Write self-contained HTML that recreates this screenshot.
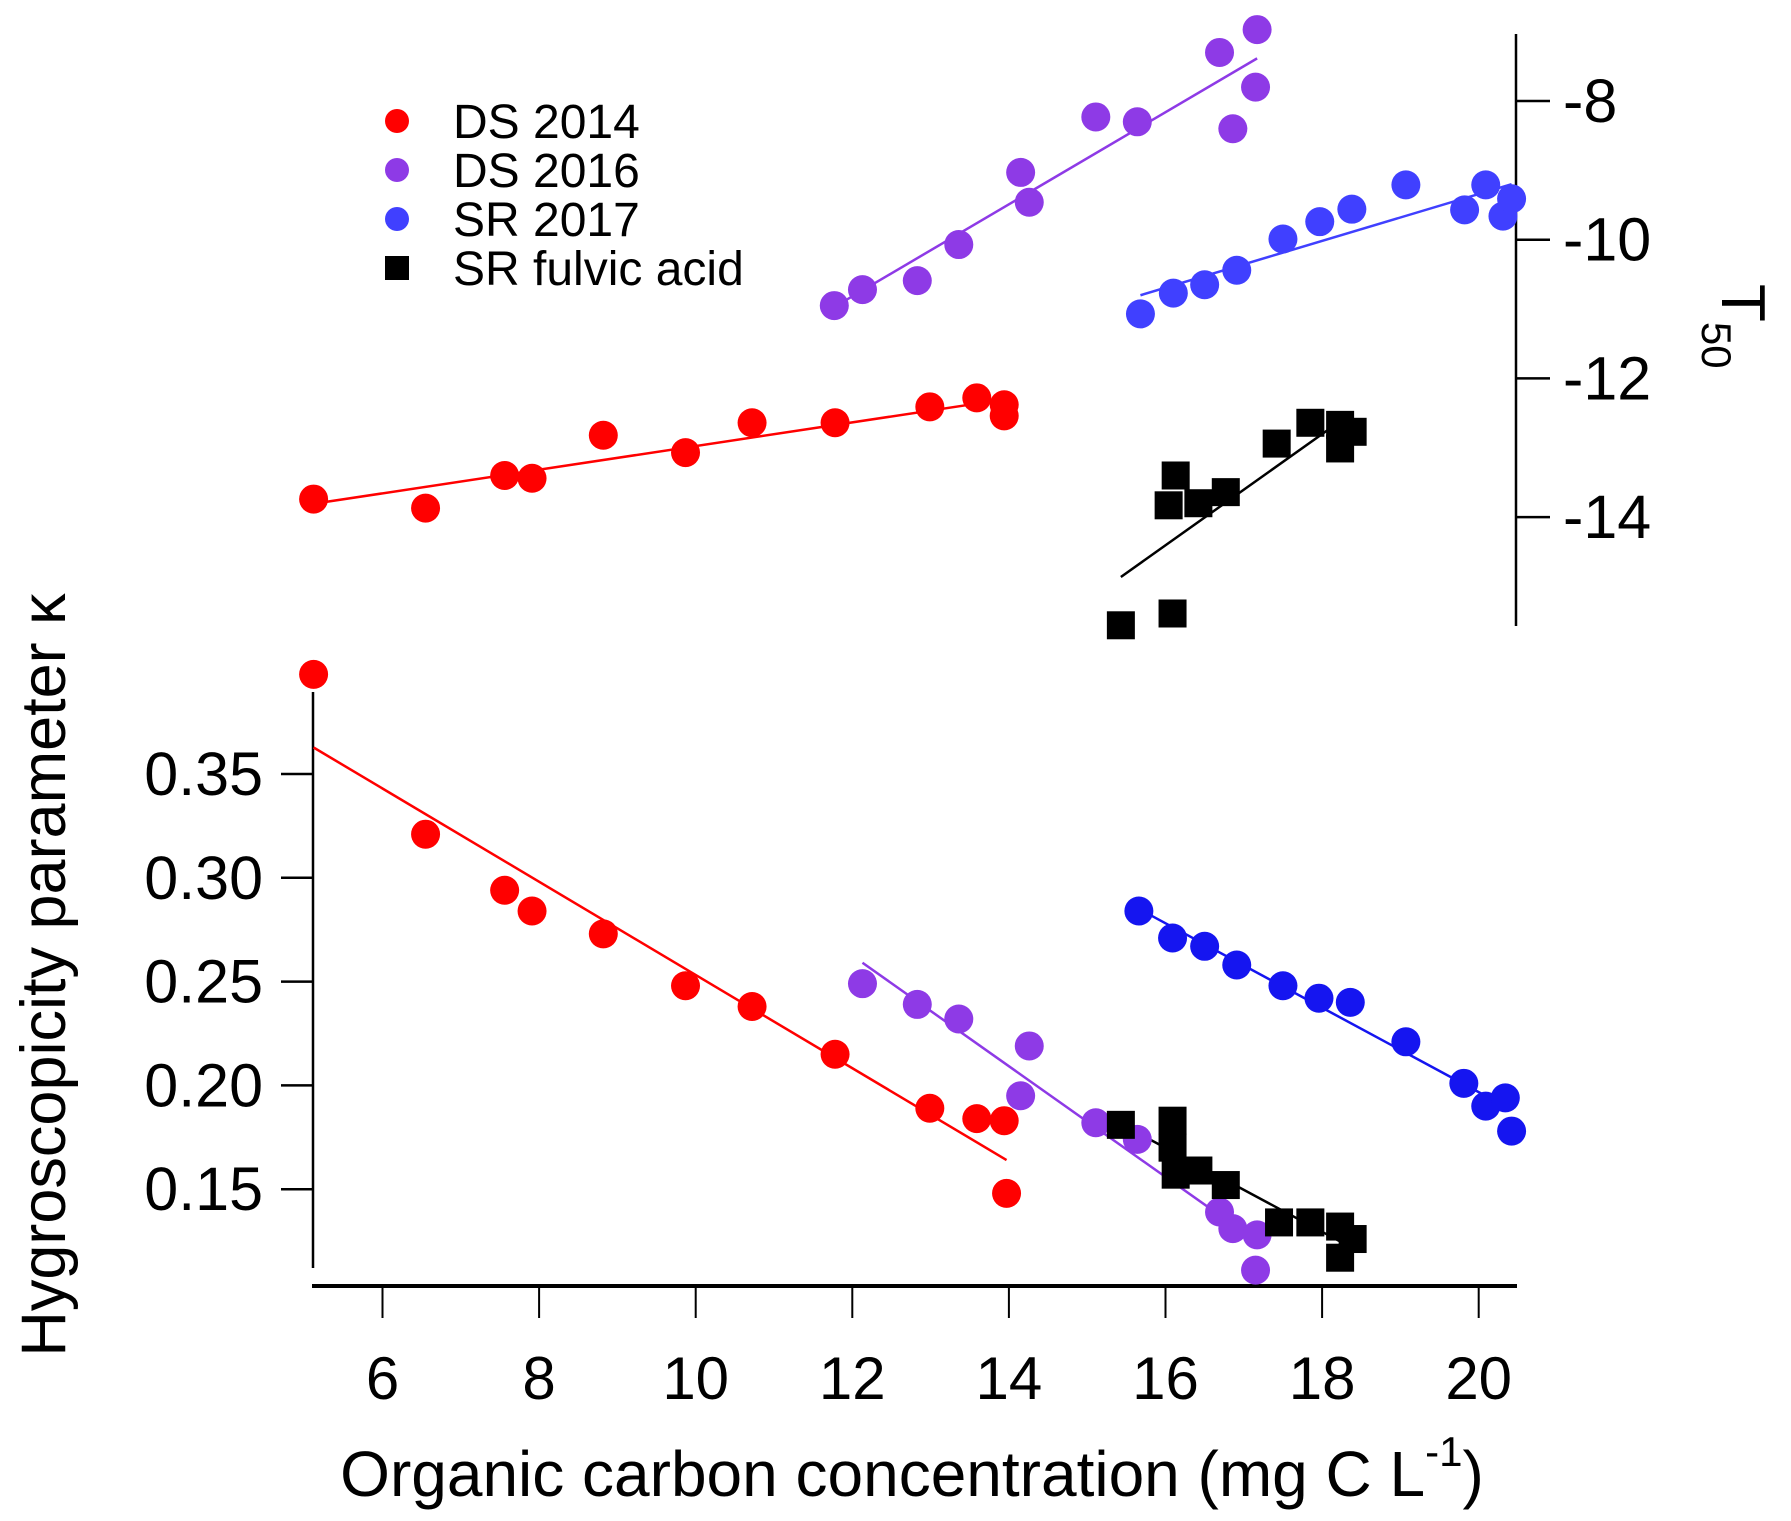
<!DOCTYPE html>
<html><head><meta charset="utf-8"><style>
html,body{margin:0;padding:0;background:#fff;}
svg{display:block;font-family:"Liberation Sans",Arial,sans-serif;}
</style></head><body>
<svg id="chart" width="1791" height="1521" viewBox="0 0 1791 1521" xmlns="http://www.w3.org/2000/svg"></svg>
<script>
const xTicks=[6,8,10,12,14,16,18,20];
const kTicks=[0.35,0.30,0.25,0.20,0.15];
const kTickLabels=["0.35","0.30","0.25","0.20","0.15"];
const tTicks=[-8,-10,-12,-14];
const tTickLabels=["-8","-10","-12","-14"];
// kappa panel
const ds14X=[5.12,6.55,7.56,7.91,8.82,9.87,10.72,11.78,12.99,13.59,13.94,13.97];
const ds14K=[0.398,0.321,0.294,0.284,0.273,0.248,0.238,0.215,0.189,0.184,0.183,0.148];
const ds16X=[12.13,12.83,13.36,14.26,14.15,15.11,15.64,16.69,16.86,17.17,17.15];
const ds16K=[0.249,0.239,0.232,0.219,0.195,0.182,0.174,0.139,0.131,0.128,0.111];
const sr17X=[15.66,16.09,16.50,16.91,17.50,17.96,18.36,19.07,19.81,20.09,20.34,20.42];
const sr17K=[0.284,0.271,0.267,0.258,0.248,0.242,0.240,0.221,0.201,0.190,0.194,0.178];
const faX=[15.43,16.09,16.09,16.13,16.42,16.77,17.45,17.85,18.23,18.23,18.39];
const faK=[0.181,0.183,0.170,0.157,0.159,0.152,0.134,0.134,0.132,0.117,0.126];
// T50 panel
const ds14TX=[5.12,6.55,7.56,7.91,8.82,9.87,10.72,11.78,12.99,13.59,13.94,13.94];
const ds14T=[-13.74,-13.87,-13.40,-13.44,-12.82,-13.07,-12.64,-12.64,-12.41,-12.28,-12.38,-12.54];
const ds16TX=[11.77,12.13,12.83,13.36,14.15,14.26,15.11,15.64,16.69,16.86,17.17,17.15];
const ds16T=[-10.95,-10.72,-10.59,-10.07,-9.03,-9.46,-8.23,-8.30,-7.30,-8.40,-6.97,-7.80];
const sr17TX=[15.68,16.10,16.50,16.91,17.50,17.97,18.38,19.07,19.82,20.09,20.31,20.42];
const sr17T=[-11.07,-10.77,-10.65,-10.44,-9.99,-9.74,-9.56,-9.21,-9.57,-9.21,-9.66,-9.41];
const faTX=[15.43,16.09,16.13,16.04,16.42,16.77,17.42,17.85,18.23,18.23,18.39];
const faT=[-15.56,-15.39,-13.40,-13.83,-13.80,-13.64,-12.94,-12.64,-12.67,-13.01,-12.77];

const NS="http://www.w3.org/2000/svg";
const svg=document.getElementById('chart');
const X=v=>382.5+(v-6)*78.3;
const YK=k=>774+(0.35-k)*2076;
const YT=t=>101+(-8-t)*69.35;
function mk(tag,attrs,parent){const e=document.createElementNS(NS,tag);for(const k in attrs)e.setAttribute(k,attrs[k]);(parent||svg).appendChild(e);return e;}

let g=mk('g',{});


mk('line',{x1:312,y1:1286,x2:1517,y2:1286,stroke:'#000','stroke-width':4},g);
xTicks.forEach(v=>{
  mk('line',{x1:X(v),y1:1286,x2:X(v),y2:1318,stroke:'#000','stroke-width':2},g);
  const t=mk('text',{x:X(v),y:1399,'text-anchor':'middle','font-size':60},g);t.textContent=v;
  
  
});
let xt=mk('text',{x:912,y:1496,'text-anchor':'middle','font-size':64});
xt.innerHTML='Organic carbon concentration (mg C L<tspan dy="-30" font-size="42">-1</tspan><tspan dy="30">)</tspan>';



g=mk('g',{});


mk('line',{x1:313,y1:692,x2:313,y2:1268,stroke:'#000','stroke-width':2.5},g);
kTicks.forEach((v,i)=>{
  mk('line',{x1:281,y1:YK(v),x2:313,y2:YK(v),stroke:'#000','stroke-width':2.5},g);
  const t=mk('text',{x:263,y:YK(v)+21,'text-anchor':'end','font-size':61},g);t.textContent=kTickLabels[i];
  
  
});
let yt=mk('text',{x:0,y:0,'text-anchor':'middle','font-size':63,transform:'translate(65,975) rotate(-90)'});
yt.textContent='Hygroscopicity parameter \u03ba';



g=mk('g',{});


mk('line',{x1:1516,y1:34,x2:1516,y2:626,stroke:'#000','stroke-width':2.5},g);
tTicks.forEach((v,i)=>{
  mk('line',{x1:1516,y1:YT(v),x2:1550,y2:YT(v),stroke:'#000','stroke-width':2.5},g);
  const t=mk('text',{x:1563,y:YT(v)+21,'text-anchor':'start','font-size':61},g);t.textContent=tTickLabels[i];
  
  
});
let tt=mk('text',{x:0,y:0,'font-size':62,transform:'translate(1722,284) rotate(90)'});
tt.innerHTML='T<tspan dy="20" font-size="42">50</tspan>';



function fitLine(xs,ys,yf,color,name){
  const n=xs.length;let sx=0,sy=0,sxx=0,sxy=0;
  for(let i=0;i<n;i++){sx+=xs[i];sy+=ys[i];sxx+=xs[i]*xs[i];sxy+=xs[i]*ys[i];}
  const b=(n*sxy-sx*sy)/(n*sxx-sx*sx),a=(sy-b*sx)/n;
  const x0=Math.min(...xs),x1=Math.max(...xs);
  const l=mk('line',{x1:X(x0),y1:yf(a+b*x0),x2:X(x1),y2:yf(a+b*x1),stroke:color,'stroke-width':2.5});
  
  
}
function pts(xs,ys,yf,color,sq,name){
  const gg=mk('g',{});
  
  
  xs.forEach((v,i)=>{
    let e;
    if(sq)e=mk('rect',{x:X(v)-14,y:yf(ys[i])-14,width:28,height:28,fill:color},gg);
    else e=mk('circle',{cx:X(v),cy:yf(ys[i]),r:14.5,fill:color},gg);
    
    
  });
}
const RED='#ff0000',PUR='#8e3ae6',BLU='#4040ff',BLU2='#1515f0',BLK='#000';
fitLine(ds14X,ds14K,YK,RED,'ds2014-kappa-fit');
fitLine(ds16X,ds16K,YK,PUR,'ds2016-kappa-fit');
fitLine(sr17X,sr17K,YK,BLU2,'sr2017-kappa-fit');
fitLine(faX,faK,YK,BLK,'fulvic-kappa-fit');
fitLine(ds14TX,ds14T,YT,RED,'ds2014-t50-fit');
fitLine(ds16TX,ds16T,YT,PUR,'ds2016-t50-fit');
fitLine(sr17TX,sr17T,YT,BLU,'sr2017-t50-fit');
fitLine(faTX,faT,YT,BLK,'fulvic-t50-fit');
pts(ds14X,ds14K,YK,RED,false,'ds2014-kappa-points');
pts(ds16X,ds16K,YK,PUR,false,'ds2016-kappa-points');
pts(sr17X,sr17K,YK,BLU2,false,'sr2017-kappa-points');
pts(faX,faK,YK,BLK,true,'fulvic-kappa-points');
pts(ds14TX,ds14T,YT,RED,false,'ds2014-t50-points');
pts(ds16TX,ds16T,YT,PUR,false,'ds2016-t50-points');
pts(sr17TX,sr17T,YT,BLU,false,'sr2017-t50-points');
pts(faTX,faT,YT,BLK,true,'fulvic-t50-points');
</script>
<div style="position:absolute;left:0;top:0;width:1791px;height:1521px;pointer-events:none;">
<svg width="1791" height="1521" style="position:absolute;left:0;top:0;font-family:'Liberation Sans',Arial,sans-serif">
<g>
<g><circle cx="397" cy="121" r="12" fill="#ff0000"/><text x="453" y="138" font-size="48">DS 2014</text></g>
<g><circle cx="397" cy="170" r="12" fill="#8e3ae6"/><text x="453" y="187" font-size="48">DS 2016</text></g>
<g><circle cx="397" cy="219" r="12" fill="#4040ff"/><text x="453" y="236" font-size="48">SR 2017</text></g>
<g><rect x="385" y="256" width="24" height="24" fill="#000"/><text x="453" y="285" font-size="48">SR fulvic acid</text></g>
</g>
</svg></div>
</body></html>
